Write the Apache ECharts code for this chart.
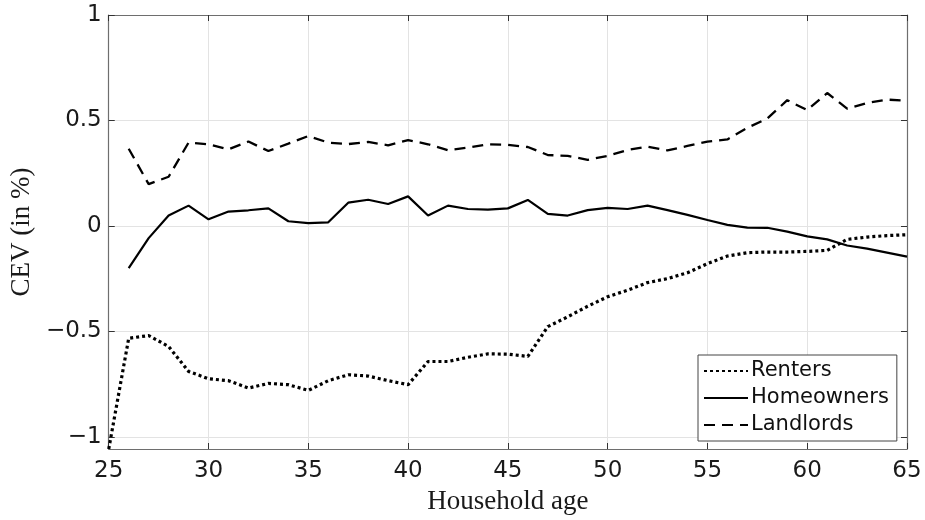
<!DOCTYPE html>
<html>
<head>
<meta charset="utf-8">
<script src="https://cdn.jsdelivr.net/npm/echarts@6/dist/echarts.min.js"></script>
<style>
html,body{margin:0;padding:0;background:#fff;}
#chart{width:925px;height:520px;}
</style>
</head>
<body>
<div id="chart"></div>
<script>
const rentersAges = [25,26,27,28,29,30,31,32,33,34,35,36,37,38,39,40,41,42,43,44,45,46,47,48,49,50,51,52,53,54,55,56,57,58,59,60,61,62,63,64,65];
const renters = [-1.058,-0.533,-0.52,-0.572,-0.69,-0.725,-0.734,-0.769,-0.747,-0.753,-0.78,-0.734,-0.706,-0.712,-0.734,-0.753,-0.643,-0.643,-0.623,-0.607,-0.608,-0.619,-0.478,-0.431,-0.381,-0.336,-0.305,-0.269,-0.25,-0.222,-0.179,-0.143,-0.127,-0.124,-0.124,-0.121,-0.116,-0.064,-0.053,-0.046,-0.042];
const ownerAges = [26,27,28,29,30,31,32,33,34,35,36,37,38,39,40,41,42,43,44,45,46,47,48,49,50,51,52,53,54,55,56,57,58,59,60,61,62,63,64,65];
const homeowners = [-0.20,-0.058,0.049,0.096,0.031,0.068,0.074,0.083,0.022,0.013,0.017,0.11,0.124,0.104,0.14,0.049,0.096,0.08,0.077,0.083,0.123,0.057,0.049,0.075,0.085,0.08,0.096,0.075,0.052,0.028,0.005,-0.008,-0.009,-0.027,-0.05,-0.064,-0.093,-0.108,-0.127,-0.146];
const landlords = [0.366,0.198,0.233,0.395,0.387,0.363,0.40,0.355,0.39,0.426,0.395,0.388,0.398,0.382,0.407,0.387,0.359,0.371,0.387,0.384,0.374,0.336,0.332,0.313,0.332,0.36,0.376,0.358,0.379,0.40,0.41,0.465,0.509,0.596,0.549,0.63,0.556,0.583,0.599,0.593];
const xTicks = [25,30,35,40,45,50,55,60,65];
const yTicks = [-1,-0.5,0,0.5,1];

const pairs = (xs, ys) => xs.map((x, i) => [x, ys[i]]);
const tickFont = {fontFamily: 'DejaVu Sans', fontSize: 23, color: '#1a1a1a'};
const axisLineCol = '#6e6e6e';

const chart = echarts.init(document.getElementById('chart'), null, {renderer: 'canvas'});
chart.setOption({
  animation: false,
  backgroundColor: '#fff',
  grid: {left: 107, right: 18, top: 15, bottom: 68, containLabel: false},
  xAxis: [{
    type: 'value', min: 25, max: 65, interval: 5,
    name: 'Household age', nameLocation: 'middle', nameGap: 39,
    nameTextStyle: {fontFamily: 'Liberation Serif', fontSize: 27, color: '#1a1a1a'},
    axisLine: {show: true, onZero: false, lineStyle: {color: axisLineCol, width: 1.2}},
    axisTick: {show: true, inside: true, length: 6, lineStyle: {color: '#333'}},
    axisLabel: Object.assign({margin: 11}, tickFont),
    splitLine: {show: true, lineStyle: {color: '#e3e3e3', width: 1}}
  }, {
    type: 'value', min: 25, max: 65, interval: 5, position: 'top',
    axisLine: {show: true, onZero: false, lineStyle: {color: axisLineCol, width: 1.2}},
    axisTick: {show: true, inside: true, length: 6, lineStyle: {color: '#333'}},
    axisLabel: {show: false}, splitLine: {show: false}
  }],
  yAxis: [{
    type: 'value', min: -1.058, max: 1,
    name: 'CEV (in %)', nameLocation: 'middle', nameGap: 66, nameRotate: 90,
    nameTextStyle: {fontFamily: 'Liberation Serif', fontSize: 27, color: '#1a1a1a'},
    axisLine: {show: true, onZero: false, lineStyle: {color: axisLineCol, width: 1.2}},
    axisTick: {show: true, inside: true, length: 6, customValues: yTicks, lineStyle: {color: '#333'}},
    axisLabel: Object.assign({margin: 7, customValues: yTicks, formatter: v => String(v).replace('-', '\u2212')}, tickFont),
    splitLine: {show: true, lineStyle: {color: '#e3e3e3', width: 1}}
  }, {
    type: 'value', min: -1.058, max: 1, position: 'right',
    axisLine: {show: true, onZero: false, lineStyle: {color: axisLineCol, width: 1.2}},
    axisTick: {show: true, inside: true, length: 6, customValues: yTicks, lineStyle: {color: '#333'}},
    axisLabel: {show: false, customValues: yTicks}, splitLine: {show: false}
  }],
  legend: {
    orient: 'vertical', left: 698, top: 355,
    backgroundColor: '#fff', borderColor: '#444', borderWidth: 1,
    padding: [4, 8, 4, 5], itemGap: 3, itemWidth: 44, itemHeight: 14,
    itemStyle: {opacity: 0, borderWidth: 0},
    textStyle: {fontFamily: 'DejaVu Sans', fontSize: 21, color: '#111', lineHeight: 24, padding: [0,0,0,-2]},
    data: ['Renters', 'Homeowners', 'Landlords']
  },
  series: [{
    name: 'Renters', type: 'line', data: pairs(rentersAges, renters),
    showSymbol: false, symbol: 'none', color: '#000',
    lineStyle: {color: '#000', width: 3.2, type: [3, 3], cap: 'butt'}
  }, {
    name: 'Homeowners', type: 'line', data: pairs(ownerAges, homeowners),
    showSymbol: false, symbol: 'none', color: '#000',
    lineStyle: {color: '#000', width: 2.2, type: 'solid'}
  }, {
    name: 'Landlords', type: 'line', data: pairs(ownerAges, landlords),
    showSymbol: false, symbol: 'none', color: '#000',
    lineStyle: {color: '#000', width: 2.3, type: [11, 7]}
  }]
});
</script>
</body>
</html>
